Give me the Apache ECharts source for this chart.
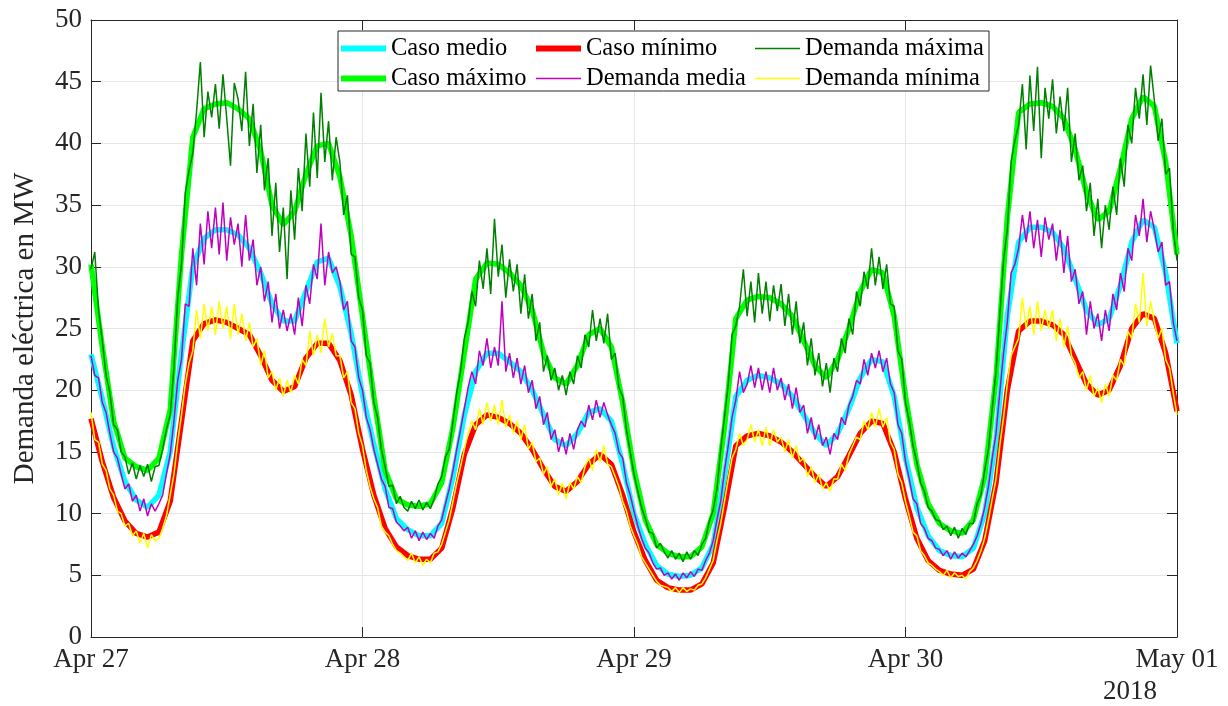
<!DOCTYPE html>
<html>
<head>
<meta charset="utf-8">
<script src="https://cdn.jsdelivr.net/npm/echarts@6/dist/echarts.min.js"></script>
<style>
html,body{margin:0;padding:0;background:#fff;}
#chart{width:1228px;height:706px;}
</style>
</head>
<body>
<div id="chart"></div>
<script>
// ---- Data (hours from Apr 27 00:00) ----
const dayLabels = ['Apr 27', 'Apr 28', 'Apr 29', 'Apr 30', 'May 01'];
const yearLabel = '2018';
const yTicks = [0, 5, 10, 15, 20, 25, 30, 35, 40, 45, 50];

// hourly "Caso" profiles (97 points, h0..h96)
const casoMedio = [
  22.9, 19.3, 15.4, 12.6, 11.1, 10.5, 11.5, 15, 23, 30, 32.3, 33, 33, 32.6, 31.5, 29.5, 27, 25.6, 25.6, 28, 30.4, 30.7, 28.4, 24.6,
  19.6, 15.6, 12, 9.6, 8.7, 8.2, 8.2, 9.2, 13, 18, 21.5, 23, 23, 22.3, 21.5, 20, 18, 16, 15.5, 16.5, 18.2, 18.5, 17.5, 14,
  10, 7.5, 5.8, 5.1, 4.9, 5, 5.6, 7.5, 13, 19.5, 20.8, 21.2, 21, 20.5, 19.5, 18, 16.5, 15.5, 16.5, 18.5, 21, 22.5, 22.3, 19.5,
  14.5, 10.5, 8.2, 7, 6.6, 6.5, 7.2, 10, 16, 26, 32, 33.2, 33.2, 32.8, 31.5, 29, 26.5, 25.3, 25.8, 28.5, 32, 33.8, 33.2, 29.5, 23.8
];
const casoMaximo = [
  30.2, 23.5, 17.5, 14.5, 13.8, 13.5, 14.5, 18.4, 31, 40.5, 42.8, 43.2, 43.3, 42.8, 42, 39.4, 35, 33.4, 34.5, 37.5, 39.8, 40, 37.3, 32.5,
  26, 19.5, 13.5, 11.2, 10.7, 10.6, 10.8, 12.5, 17, 23, 29, 30.3, 30.2, 29.5, 28.5, 26.5, 23, 21, 20.5, 22, 24.5, 25, 23.5, 19,
  13.5, 9.5, 7.5, 6.8, 6.5, 6.5, 7.3, 10, 17, 25.8, 27.3, 27.6, 27.5, 27, 26, 24, 22, 21, 22.5, 25, 28, 29.8, 29.5, 26,
  19.5, 14, 10.8, 9.2, 8.6, 8.4, 9.5, 13, 21, 34, 42.5, 43.2, 43.3, 43, 42, 39.5, 36, 33.8, 34.5, 38, 42, 43.8, 43, 38.5, 31
];
const casoMinimo = [
  17.7, 14.2, 11.3, 9.4, 8.4, 8.1, 8.5, 11, 17.5, 24, 25.4, 25.7, 25.5, 25, 24.5, 22.8, 20.8, 19.9, 20.3, 22.6, 23.8, 23.8, 22.4, 19.6,
  15.2, 11.5, 8.8, 7.3, 6.6, 6.3, 6.3, 7.2, 10.5, 14.8, 17.2, 18, 17.8, 17.3, 16.5, 15.2, 13.6, 12.2, 11.8, 12.6, 14, 14.8, 14, 11.5,
  8.5, 6.2, 4.6, 4, 3.8, 3.8, 4.3, 6, 10.5, 15.5, 16.3, 16.5, 16.3, 15.8, 15, 14, 13, 12.2, 13, 14.7, 16.5, 17.5, 17.3, 15,
  11.2, 8, 6.2, 5.4, 5.1, 5, 5.5, 7.8, 12.5, 20, 24.8, 25.6, 25.6, 25.3, 24.5, 22.5, 20.5, 19.6, 20, 22, 25, 26.2, 25.8, 23, 18.3
];

// 20-minute "Demanda" measurements (289 points)
const demandaMaxima = [
  29.8,31.2,26.5, 24.0,21.2,19.8, 17.2,16.8,15.0, 14.6,13.2,14.1, 12.8,13.9,13.0, 14.0,12.6,13.8,
  13.9,15.2,16.8, 18.0,21.8,27.5, 30.2,36.0,37.8, 39.2,42.6,46.6, 40.5,44.2,42.1, 44.8,41.2,45.6,
  42.0,38.2,44.9, 43.6,41.0,45.8, 39.8,43.2,37.6, 41.5,36.2,38.8, 32.5,36.8,31.2, 34.8,29.0,36.2,
  32.2,38.0,34.5, 40.8,36.5,42.5, 37.2,44.1,38.5, 41.8,37.0,40.5, 38.5,34.2,35.8, 31.0,30.8,27.5,
  26.5,22.8,22.2, 19.0,17.8,15.2, 13.8,12.2,12.3, 10.8,11.4,10.5, 10.2,11.0,10.4, 11.1,10.3,10.9,
  10.4,11.2,12.4, 13.0,14.6,15.2, 17.5,19.8,21.5, 24.2,25.5,28.0, 26.8,30.5,28.2, 31.5,27.8,33.9,
  29.2,31.8,27.5, 30.6,28.0,30.2, 26.2,29.4,25.8, 27.8,24.0,25.5, 21.5,22.8,20.8, 21.8,20.0,21.2,
  19.6,21.5,20.5, 22.8,21.8,24.5, 23.5,26.5,24.0, 25.8,23.8,26.2, 22.5,23.0,20.2, 19.5,16.8,15.0,
  13.2,11.8,10.5, 9.6,8.5,8.4, 7.2,7.6,6.9, 6.4,7.0,6.3, 6.8,6.1,6.9, 6.3,7.0,6.6,
  7.5,8.0,9.4, 10.3,12.0,15.2, 17.8,20.5,24.5, 25.2,26.8,29.8, 26.0,28.8,25.5, 29.5,26.2,28.8,
  25.6,28.5,26.4, 28.6,25.2,27.8, 24.5,27.2,23.8, 25.5,22.0,24.2, 21.2,23.0,20.3, 22.2,19.8,22.6,
  21.5,24.2,23.0, 25.8,24.5,28.0, 26.8,29.6,28.2, 31.5,28.5,30.8, 28.2,30.2,27.0, 26.8,23.2,22.5,
  19.0,17.5,15.5, 14.2,12.5,11.8, 10.5,10.2,9.5, 9.4,8.7,9.0, 8.2,8.9,8.0, 8.8,8.3,9.2,
  9.2,10.8,11.5, 13.5,15.2,18.5, 21.5,26.0,30.5, 33.0,38.5,40.2, 41.5,44.8,39.5, 45.5,41.0,46.2,
  38.8,44.5,42.0, 45.2,40.8,43.8, 41.0,44.5,38.5, 40.8,37.0,38.2, 34.5,36.8,32.5, 35.5,31.5,35.0,
  33.0,36.5,34.2, 38.8,36.5,41.5, 40.0,44.5,42.0, 45.6,41.5,46.3, 43.5,40.2,42.0, 37.5,38.0,33.0,
  30.5
];
const demandaMedia = [
  22.8,21.2,21.0, 19.0,18.2,16.5, 15.0,14.5,13.2, 12.0,12.4,11.0, 11.5,10.2,11.2, 9.8,10.8,10.2,
  10.8,11.5,13.2, 14.8,17.5,20.8, 22.5,27.0,26.8, 31.5,28.5,33.5, 30.2,34.5,31.5, 34.8,31.0,35.2,
  30.5,34.0,31.8, 33.5,30.0,34.2, 30.5,32.2,28.5, 30.0,27.2,28.8, 25.5,27.8,25.0, 26.5,24.8,26.2,
  24.5,27.5,25.2, 28.5,27.0,30.2, 29.0,33.5,28.5, 31.2,29.5,30.0, 28.8,26.5,27.2, 24.0,23.5,21.0,
  20.0,17.8,16.8, 15.2,14.0,12.8, 12.2,10.5,10.4, 9.3,9.0,8.6, 8.9,8.0,8.6, 7.8,8.5,7.9,
  8.4,8.0,9.0, 9.5,10.8,12.0, 13.5,15.2,16.8, 18.5,20.2,21.5, 20.5,23.2,22.0, 24.2,21.8,23.5,
  22.0,27.2,21.5, 23.0,21.0,22.6, 20.5,22.0,19.8, 20.8,18.5,19.5, 17.2,18.2,16.0, 16.8,15.0,16.2,
  14.8,16.5,15.2, 16.8,17.5,17.0, 18.8,17.6,19.2, 17.8,19.0,18.0, 17.2,16.5,15.0, 14.5,12.5,11.5,
  10.2,9.0,8.0, 7.2,6.8,6.0, 5.5,5.6,5.0, 5.2,4.7,5.1, 4.6,5.2,4.8, 5.3,4.9,5.5,
  5.4,6.2,6.8, 7.8,9.5,11.0, 13.5,15.5,17.8, 19.2,21.5,19.8, 20.5,22.0,20.2, 21.8,20.0,21.5,
  19.8,21.8,20.0, 21.0,19.2,20.5, 18.5,20.2,18.2, 18.8,16.5,17.8, 16.0,17.2,15.5, 16.2,14.8,16.5,
  16.0,17.8,17.2, 18.8,19.5,20.8, 20.5,22.5,21.2, 23.0,21.8,23.2, 21.5,22.6,20.5, 19.8,17.2,16.5,
  14.2,12.8,11.2, 10.8,9.2,8.8, 8.0,7.8,7.2, 7.1,6.6,7.0, 6.3,6.9,6.4, 6.8,6.5,7.0,
  7.5,8.2,9.2, 10.5,12.2,14.5, 16.5,19.8,23.0, 25.5,29.5,30.2, 31.5,34.2,32.0, 34.5,31.5,33.8,
  30.8,34.0,32.2, 33.5,30.5,33.0, 29.5,32.5,28.8, 29.8,27.0,28.0, 24.5,27.2,25.0, 26.2,24.0,26.5,
  24.8,27.8,26.5, 29.5,28.0,31.5, 30.5,34.2,32.5, 35.5,32.0,34.5, 33.0,31.2,32.0, 28.5,28.8,25.5,
  24.0
];
const demandaMinima = [
  18.2,16.0,15.8, 14.0,13.5,12.0, 11.5,10.2,10.0, 9.0,9.2,8.2, 8.6,7.6,8.4, 7.2,8.3,7.8,
  8.0,8.8,9.8, 11.5,13.2,15.8, 18.0,20.5,22.2, 23.2,26.5,24.2, 27.0,24.8,26.8, 24.5,27.2,25.0,
  26.8,24.2,27.0, 24.5,26.2,24.0, 25.5,23.5,24.2, 22.0,23.2,21.0, 21.5,20.0,21.0, 19.5,20.8,19.8,
  21.2,20.5,22.5, 22.0,24.8,22.8, 24.5,23.0,25.8, 23.5,24.6,22.8, 22.8,21.0,21.5, 19.0,18.5,16.5,
  15.5,13.5,12.2, 11.2,10.5,9.0, 8.5,8.2,7.5, 7.0,6.8,6.5, 6.2,6.8,6.0, 6.5,5.8,6.3,
  6.0,6.8,6.9, 7.5,8.5,9.5, 11.0,12.5,13.8, 15.2,16.5,17.5, 16.8,18.5,17.2, 19.0,17.5,18.8,
  17.2,19.2,17.0, 18.0,16.5,17.5, 16.0,17.2,15.2, 15.8,14.2,14.5, 13.2,13.8,12.2, 12.8,11.5,12.5,
  11.2,12.5,12.0, 13.0,12.5,13.8, 14.5,13.5,15.2, 14.2,15.5,14.0, 13.8,13.0,12.2, 11.0,10.2,9.0,
  8.2,7.5,6.5, 6.0,5.5,5.0, 4.5,4.2,4.1, 4.0,3.7,4.0, 3.6,4.0,3.7, 3.9,3.8,4.2,
  4.3,4.8,5.5, 6.2,7.8,9.2, 11.0,12.8,14.5, 15.2,16.5,15.5, 16.0,17.2,15.8, 16.8,15.5,17.0,
  15.5,16.8,15.8, 16.2,15.0,16.0, 14.5,15.5,14.2, 14.5,13.0,13.8, 12.5,13.2,12.0, 12.5,11.8,12.8,
  12.8,14.0,13.5, 14.8,15.5,16.2, 16.0,17.5,16.8, 18.2,17.0,18.5, 17.0,17.8,15.8, 15.2,13.2,12.5,
  11.0,9.8,8.5, 8.2,7.0,6.6, 6.0,5.8,5.5, 5.3,5.0,5.4, 4.8,5.2,4.9, 5.0,4.7,5.3,
  5.6,6.2,7.0, 8.0,9.5,11.2, 12.8,15.5,17.8, 20.5,22.8,23.5, 24.2,27.5,25.0, 26.8,24.5,27.2,
  24.8,26.5,25.0, 26.5,24.0,25.8, 23.5,25.2,22.8, 22.2,21.0,21.5, 20.0,21.2,19.5, 20.2,19.0,20.5,
  19.5,21.2,20.8, 22.5,22.0,24.8, 24.2,27.0,25.5, 29.5,25.2,27.2, 25.5,24.2,25.0, 22.5,21.8,19.8,
  18.0
];

// ---- Helpers: pair values with their hour position ----
function hourly(arr) { return arr.map((v, i) => [i, v]); }
function every20min(arr) { return arr.map((v, i) => [i / 3, v]); }

const FONT = 'Liberation Serif';
const AXC = '#262626';

const chart = echarts.init(document.getElementById('chart'), null, { renderer: 'canvas' });

const thin = 1.5, thick = 5.5;
const THICK_ICON = 'path://M0,0H45V6H0Z';
const THIN_ICON = 'path://M0,0H45V1.4H0Z';
const defs = [
  { name: 'Caso medio', data: hourly(casoMedio), color: '#00FFFF', width: thick },
  { name: 'Caso máximo', data: hourly(casoMaximo), color: '#00FF00', width: thick },
  { name: 'Caso mínimo', data: hourly(casoMinimo), color: '#FF0000', width: thick },
  { name: 'Demanda media', data: every20min(demandaMedia), color: '#BF00BF', width: thin },
  { name: 'Demanda máxima', data: every20min(demandaMaxima), color: '#008000', width: thin },
  { name: 'Demanda mínima', data: every20min(demandaMinima), color: '#FFFF00', width: thin }
];
const series = defs.map(s => ({
  name: s.name, type: 'line', data: s.data, showSymbol: false, symbol: 'none',
  color: s.color, lineStyle: { color: s.color, width: s.width }, z: 2,
  emphasis: { disabled: true }, animation: false
}));
const iconOf = {};
defs.forEach(s => { iconOf[s.name] = s.width > 2 ? THICK_ICON : THIN_ICON; });

const legendText = { fontFamily: FONT, fontSize: 24.5, color: '#000', lineHeight: 24 };
function legendCol(left, names) {
  return {
    orient: 'vertical', left: left, top: 36, padding: 0, itemGap: 5,
    itemWidth: 45, itemHeight: 14, symbolKeepAspect: true,
    data: names.map(n => ({ name: n, icon: iconOf[n] })),
    textStyle: legendText, selectedMode: false, z: 5
  };
}

const option = {
  animation: false,
  backgroundColor: '#ffffff',
  grid: { left: 91, top: 20, width: 1086, height: 617, show: false },
  xAxis: [
    {
      type: 'value', min: 0, max: 96, interval: 24, position: 'bottom',
      axisLine: { show: true, onZero: false, lineStyle: { color: AXC, width: 1 } },
      axisTick: { show: true, inside: true, length: 10, lineStyle: { color: AXC } },
      axisLabel: { formatter: v => dayLabels[Math.round(v / 24)], fontFamily: FONT, fontSize: 27, color: AXC, margin: 9 },
      splitLine: { show: true, lineStyle: { color: '#e6e6e6', width: 1 } }
    },
    {
      type: 'value', min: 0, max: 96, interval: 24, position: 'top',
      axisLine: { show: true, onZero: false, lineStyle: { color: AXC, width: 1 } },
      axisTick: { show: true, inside: true, length: 10, lineStyle: { color: AXC } },
      axisLabel: { show: false }, splitLine: { show: false }
    }
  ],
  yAxis: [
    {
      type: 'value', min: yTicks[0], max: yTicks[yTicks.length - 1], interval: 5, position: 'left',
      name: 'Demanda eléctrica en MW', nameLocation: 'middle', nameGap: 51,
      nameTextStyle: { fontFamily: FONT, fontSize: 29, color: AXC },
      axisLine: { show: true, onZero: false, lineStyle: { color: AXC, width: 1 } },
      axisTick: { show: true, inside: true, length: 10, lineStyle: { color: AXC } },
      axisLabel: { fontFamily: FONT, fontSize: 27, color: AXC, margin: 9 },
      splitLine: { show: true, lineStyle: { color: '#e6e6e6', width: 1 } }
    },
    {
      type: 'value', min: yTicks[0], max: yTicks[yTicks.length - 1], interval: 5, position: 'right',
      axisLine: { show: true, onZero: false, lineStyle: { color: AXC, width: 1 } },
      axisTick: { show: true, inside: true, length: 10, lineStyle: { color: AXC } },
      axisLabel: { show: false }, splitLine: { show: false }
    }
  ],
  legend: [
    legendCol(341, ['Caso medio', 'Caso máximo']),
    legendCol(536, ['Caso mínimo', 'Demanda media']),
    legendCol(755, ['Demanda máxima', 'Demanda mínima'])
  ],
  graphic: [
    {
      type: 'rect', shape: { x: 338, y: 31, width: 651, height: 60 }, z: 4,
      style: { fill: '#ffffff', stroke: AXC, lineWidth: 1 }
    },
    {
      type: 'text', left: 1103, top: 678, z: 5,
      style: { text: yearLabel, font: '27px "Liberation Serif"', fill: AXC }
    }
  ],
  series: series
};
chart.setOption(option);
</script>
</body>
</html>
